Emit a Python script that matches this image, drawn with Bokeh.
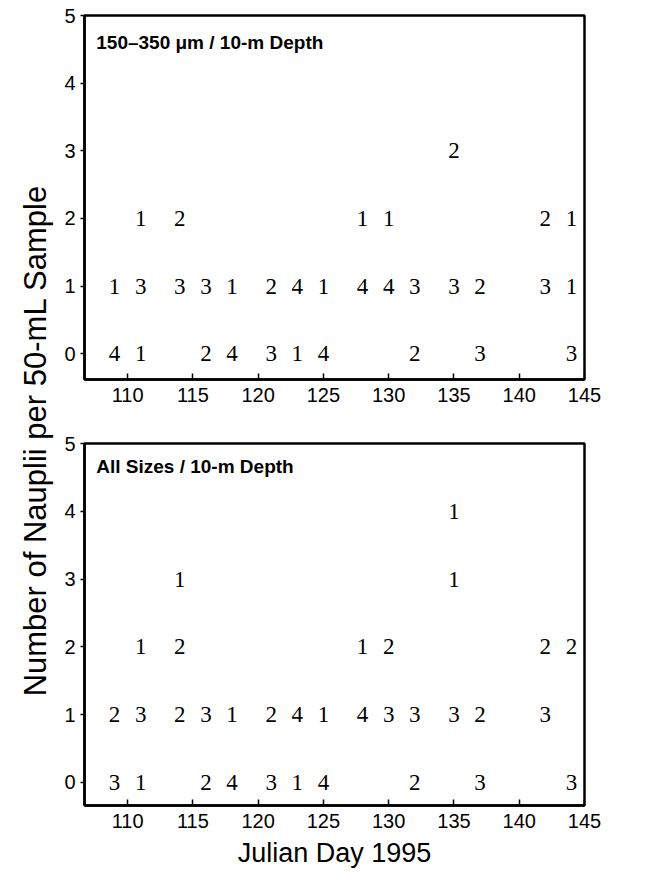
import math
from bokeh.plotting import figure
from bokeh.layouts import row, column
from bokeh.models import ColumnDataSource, Label, FixedTicker, Range1d
from bokeh.core.properties import value
from bokeh.embed import file_html
from bokeh.resources import INLINE

# ---- data: each digit = number of samples (of 5) holding that many nauplii ----
# Top panel: 150-350 um / 10-m depth
top_day     = [109, 111, 116, 118, 121, 123, 125, 132, 137, 144,
               109, 111, 114, 116, 118, 121, 123, 125, 128, 130, 132, 135, 137, 142, 144,
               111, 114, 128, 130, 142, 144,
               135]
top_nauplii = [0, 0, 0, 0, 0, 0, 0, 0, 0, 0,
               1, 1, 1, 1, 1, 1, 1, 1, 1, 1, 1, 1, 1, 1, 1,
               2, 2, 2, 2, 2, 2,
               3]
top_samples = [4, 1, 2, 4, 3, 1, 4, 2, 3, 3,
               1, 3, 3, 3, 1, 2, 4, 1, 4, 4, 3, 3, 2, 3, 1,
               1, 2, 1, 1, 2, 1,
               2]

# Bottom panel: all sizes / 10-m depth
bot_day     = [109, 111, 116, 118, 121, 123, 125, 132, 137, 144,
               109, 111, 114, 116, 118, 121, 123, 125, 128, 130, 132, 135, 137, 142,
               111, 114, 128, 130, 142, 144,
               114, 135,
               135]
bot_nauplii = [0, 0, 0, 0, 0, 0, 0, 0, 0, 0,
               1, 1, 1, 1, 1, 1, 1, 1, 1, 1, 1, 1, 1, 1,
               2, 2, 2, 2, 2, 2,
               3, 3,
               4]
bot_samples = [3, 1, 2, 4, 3, 1, 4, 2, 3, 3,
               2, 3, 2, 3, 1, 2, 4, 1, 4, 3, 3, 3, 2, 3,
               1, 2, 1, 2, 2, 2,
               1, 1,
               1]

x_ticks = [110, 115, 120, 125, 130, 135, 140, 145]
y_ticks = [0, 1, 2, 3, 4, 5]
top_title = "150–350 μm / 10-m Depth"
bot_title = "All Sizes / 10-m Depth"
x_label = "Julian Day 1995"
y_label = "Number of Nauplii per 50-mL Sample"

SANS = "Liberation Sans"
SERIF = "Liberation Serif"


def make_panel(days, nauplii, samples, title, y_lo, frame_h, border_top, border_bottom,
               show_xlabel, title_off):
    p = figure(frame_width=500, frame_height=frame_h,
               x_range=Range1d(106.7, 145), y_range=Range1d(y_lo, 5),
               toolbar_location=None, output_backend="svg",
               min_border_left=25, min_border_right=20,
               min_border_top=border_top, min_border_bottom=border_bottom)
    p.xgrid.visible = False
    p.ygrid.visible = False
    p.outline_line_color = "black"
    p.outline_line_width = 2.5
    p.outline_line_alpha = 1
    p.background_fill_color = "white"
    p.border_fill_color = "white"

    p.xaxis.ticker = FixedTicker(ticks=x_ticks)
    p.yaxis.ticker = FixedTicker(ticks=y_ticks)
    for ax in (p.xaxis, p.yaxis):
        ax.axis_line_width = 2.5
        ax.axis_line_color = "black"
        ax.major_tick_line_width = 1.5
        ax.major_tick_line_color = "black"
        ax.minor_tick_line_color = None
        ax.major_label_text_font = SANS
        ax.major_label_text_font_size = "20px"
        ax.major_label_text_color = "black"
    p.xaxis.major_tick_in = 6
    p.xaxis.major_tick_out = 0
    p.xaxis.major_label_standoff = 8
    p.yaxis.major_tick_in = 0
    p.yaxis.major_tick_out = 4
    p.yaxis.major_label_standoff = 5

    if show_xlabel:
        p.xaxis.axis_label = x_label
        p.xaxis.axis_label_text_font = SANS
        p.xaxis.axis_label_text_font_size = "27px"
        p.xaxis.axis_label_text_font_style = "normal"
        p.xaxis.axis_label_text_color = "black"
        p.xaxis.axis_label_standoff = 7

    src = ColumnDataSource(dict(day=days, n=nauplii, lab=[str(s) for s in samples]))
    p.text(x="day", y="n", text="lab", source=src,
           text_font=value(SERIF), text_font_size="23px",
           text_align="center", text_baseline="middle", text_color="black")

    p.add_layout(Label(x=107.6, y=5 - title_off / (frame_h / (5 - y_lo)), text=title,
                       text_font=SANS, text_font_size="19px", text_font_style="bold",
                       text_align="left", text_baseline="middle", text_color="black"))
    return p


top = make_panel(top_day, top_nauplii, top_samples, top_title, -0.38, 364, 15, 40, False, 26.5)
bot = make_panel(bot_day, bot_nauplii, bot_samples, bot_title, -0.34, 362, 24, 70, True, 23)

total_h = (15 + 364 + 40) + (24 + 362 + 70)
lab_w = 59
lab_fig = figure(width=lab_w, height=total_h, x_range=Range1d(0, 1), y_range=Range1d(0, 1),
                 toolbar_location=None, output_backend="svg", min_border=0)
lab_fig.axis.visible = False
lab_fig.grid.visible = False
lab_fig.outline_line_color = None
lab_fig.text(x=[35 / lab_w], y=[1 - 440 / total_h], text=[y_label], angle=math.pi / 2,
             text_font=value(SANS), text_font_size="31px",
             text_align="center", text_baseline="middle", text_color="black")

layout = row(lab_fig, column(top, bot, spacing=0), spacing=0)

with open("out.html", "w") as f:
    f.write(file_html(layout, INLINE))
